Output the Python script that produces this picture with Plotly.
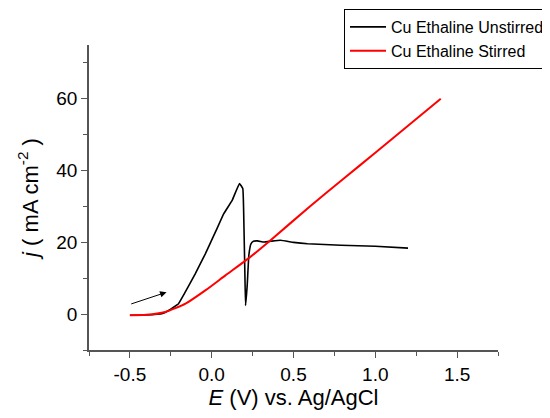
import plotly.graph_objects as go

# Cu Ethaline Unstirred (black)
E_unstirred = [-0.5, -0.4, -0.3, -0.263, -0.203, -0.162, -0.1, -0.039, 0.023, 0.074, 0.125,
               0.170, 0.19, 0.197, 0.203, 0.207, 0.217, 0.227, 0.24, 0.255, 0.28, 0.32,
               0.36, 0.42, 0.5, 0.586, 0.79, 1.0, 1.2]
j_unstirred = [-0.3, -0.25, 0.2, 1.0, 2.9, 6.1, 11.3, 16.8, 22.9, 28.0, 31.7,
               36.4, 35.0, 24.7, 10.8, 2.4, 8.0, 16.4, 19.6, 20.3, 20.4, 20.1,
               20.3, 20.6, 20.0, 19.6, 19.2, 18.9, 18.4]

# Cu Ethaline Stirred (red)
E_stirred = [-0.5, -0.4, -0.284, -0.16, -0.039, 0.084, 0.227, 0.36, 0.6, 0.8, 1.0, 1.2, 1.4]
j_stirred = [-0.3, -0.2, 0.6, 2.9, 6.6, 10.8, 15.6, 20.6, 30.0, 37.5, 45.0, 52.5, 60.0]

# scan-direction arrow (tail -> head)
arrow_tail = (-0.501, 2.7)
arrow_head = (-0.276, 6.1)

FONT = "Arial, Liberation Sans, sans-serif"
AXC = "#555555"

fig = go.Figure()
fig.add_trace(go.Scatter(x=E_unstirred, y=j_unstirred, mode="lines", name="Cu Ethaline Unstirred",
                         line=dict(color="black", width=1.6, shape="spline", smoothing=0.3)))
fig.add_trace(go.Scatter(x=E_stirred, y=j_stirred, mode="lines", name="Cu Ethaline Stirred",
                         line=dict(color="#ff0000", width=2, shape="spline", smoothing=0.6)))

fig.add_annotation(x=arrow_head[0], y=arrow_head[1], ax=arrow_tail[0], ay=arrow_tail[1],
                   xref="x", yref="y", axref="x", ayref="y", text="", showarrow=True,
                   arrowhead=2, arrowsize=1.3, arrowwidth=1, arrowcolor="black")

axis_common = dict(showline=True, linecolor=AXC, linewidth=1.5, ticks="outside", tickcolor=AXC,
                   ticklen=6, tickwidth=1, showgrid=False, zeroline=False, mirror=False,
                   automargin=False,
                   tickfont=dict(family=FONT, size=19, color="black"))

fig.update_xaxes(range=[-0.75, 1.75], tickvals=[-0.5, 0.0, 0.5, 1.0, 1.5],
                 ticktext=["-0.5", "0.0", "0.5", "1.0", "1.5"],
                 minor=dict(tickvals=[-0.75, -0.25, 0.25, 0.75, 1.25, 1.75], ticklen=4, tickcolor=AXC, ticks="outside"),
                 title=dict(text="<i>E</i> (V) vs. Ag/AgCl", font=dict(family=FONT, size=22, color="black"), standoff=6),
                 **axis_common)
fig.update_yaxes(range=[-10, 75], tickvals=[0, 20, 40, 60],
                 minor=dict(tickvals=[-10, 10, 30, 50, 70], ticklen=4, tickcolor=AXC, ticks="outside"),
                 title=dict(text="<i>j</i> ( mA cm<sup>-2</sup> )", font=dict(family=FONT, size=22, color="black"), standoff=12),
                 **axis_common)

fig.update_layout(
    width=550, height=418,
    margin=dict(l=81, r=60, t=37, b=76, autoexpand=False),
    plot_bgcolor="white", paper_bgcolor="white",
    font=dict(family=FONT, color="black"),
    legend=dict(x=0.6235, y=1.118, xanchor="left", yanchor="top",
                bordercolor="black", borderwidth=1, bgcolor="white",
                font=dict(family=FONT, size=16, color="black"),
                itemwidth=36, tracegroupgap=0),
    showlegend=True,
)

fig.write_html("out.html")
